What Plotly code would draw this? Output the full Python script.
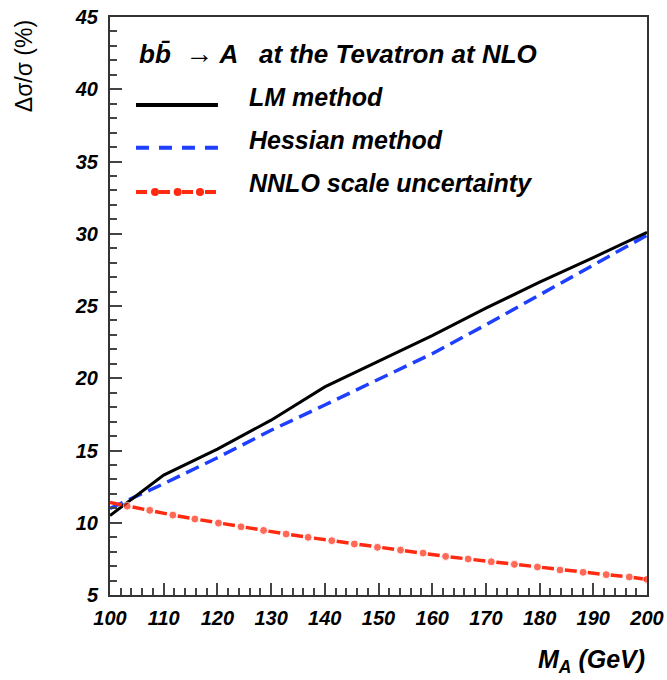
import plotly.graph_objects as go

# ---- data ----
lm_x = [100, 110, 120, 130, 140, 150, 160, 170, 180, 190, 200]
lm_y = [10.5, 13.3, 15.1, 17.1, 19.4, 21.15, 22.95, 24.85, 26.65, 28.35, 30.1]

hess_x = [100, 110, 120, 130, 140, 150, 160, 170, 180, 190, 200]
hess_y = [11.0, 12.7, 14.5, 16.4, 18.15, 19.9, 21.7, 23.7, 25.75, 27.8, 29.9]

nnlo_x = [100, 103.2, 107.4, 111.7, 115.8, 120.2, 124.4, 128.6, 132.8, 136.9, 141.3,
          145.5, 149.8, 154.1, 158.3, 162.5, 166.7, 171.0, 175.3, 179.6, 183.8,
          188.1, 192.4, 196.7, 200]
nnlo_y = [11.4, 11.15, 10.86, 10.53, 10.26, 9.98, 9.72, 9.47, 9.22, 8.99, 8.76,
          8.53, 8.30, 8.11, 7.90, 7.67, 7.49, 7.30, 7.12, 6.94, 6.73,
          6.57, 6.41, 6.25, 6.08]

x_ticks = [100, 110, 120, 130, 140, 150, 160, 170, 180, 190, 200]
y_ticks = [5, 10, 15, 20, 25, 30, 35, 40, 45]

title_text = ("bb\u0304  <span style='font-size:28px;font-weight:normal;font-style:normal'>\u2192</span>"
              " A   at the Tevatron at NLO")
legend_names = ["LM method", "Hessian method", "NNLO scale uncertainty"]

FONT = "Liberation Sans, Arial, sans-serif"
RED = "#ff2a10"
BLUE = "#1f3fff"

fig = go.Figure()
fig.add_trace(go.Scatter(x=hess_x, y=hess_y, mode="lines",
                         line=dict(color=BLUE, width=3.5, dash="14px,7px"),
                         showlegend=False))
fig.add_trace(go.Scatter(x=lm_x, y=lm_y, mode="lines",
                         line=dict(color="black", width=3),
                         showlegend=False))
msizes = [0] + [8] * (len(nnlo_x) - 1)
fig.add_trace(go.Scatter(x=nnlo_x, y=nnlo_y, mode="lines+markers",
                         line=dict(color=RED, width=3.5, dash="12px,11px"),
                         marker=dict(color=RED, size=msizes),
                         showlegend=False))

# ---- legend drawn as decorations (paper coords) ----
x0, x1 = 0.0484, 0.201
ys = [0.8478, 0.7739, 0.6972]
shapes = [
    dict(type="line", xref="paper", yref="paper", x0=x0, x1=x1, y0=ys[0], y1=ys[0],
         line=dict(color="black", width=4)),
    dict(type="line", xref="paper", yref="paper", x0=x0, x1=x1, y0=ys[1], y1=ys[1],
         line=dict(color=BLUE, width=4, dash="13px,10px")),
    dict(type="line", xref="paper", yref="paper", x0=x0, x1=x1, y0=ys[2], y1=ys[2],
         line=dict(color=RED, width=4, dash="11px,12px")),
]
for dx in [0.0838, 0.1260, 0.1676]:
    r = 0.0075
    shapes.append(dict(type="circle", xref="paper", yref="paper",
                       x0=dx - r, x1=dx + r, y0=ys[2] - r * 537 / 578, y1=ys[2] + r * 537 / 578,
                       fillcolor=RED, line=dict(color=RED, width=0)))

annots = [
    dict(text=title_text, x=0.0497, y=0.9377, xref="paper", yref="paper",
         xanchor="left", yanchor="middle", showarrow=False,
         font=dict(family=FONT, size=26, color="black", weight="bold", style="italic")),
]
for name, yy in zip(legend_names, [0.862, 0.787, 0.7128]):
    annots.append(dict(text=name, x=0.2546, y=yy, xref="paper", yref="paper",
                       xanchor="left", yanchor="middle", showarrow=False,
                       font=dict(family=FONT, size=25, color="black", weight="bold", style="italic")))
# y-axis title at top
annots.append(dict(text="\u0394\u03c3/\u03c3 (%)", x=-0.16, y=0.915, xref="paper", yref="paper",
                   xanchor="center", yanchor="middle", textangle=-90, showarrow=False,
                   font=dict(family=FONT, size=23, color="black")))
# x-axis title at right
annots.append(dict(text="M<sub>A</sub> (GeV)", x=1.0, y=-0.115, xref="paper", yref="paper",
                   xanchor="right", yanchor="middle", showarrow=False,
                   font=dict(family=FONT, size=25, color="black", weight="bold", style="italic")))

fig.update_layout(
    width=667, height=680,
    margin=dict(l=110, r=20, t=17, b=85, autoexpand=False),
    paper_bgcolor="white", plot_bgcolor="white",
    shapes=shapes, annotations=annots,
    showlegend=False,
)
tickfont = dict(family=FONT, size=20, color="black", weight="bold", style="italic")
fig.update_xaxes(range=[100, 200], tickvals=x_ticks, ticktext=[str(v) for v in x_ticks],
                 ticks="inside", ticklen=12, tickwidth=1.5, tickcolor="#444",
                 minor=dict(dtick=2, tick0=100, ticks="inside", ticklen=7, tickwidth=1.5, tickcolor="#444"),
                 showline=True, linecolor="#333", linewidth=2, mirror=True, automargin=False,
                 showgrid=False, zeroline=False, tickfont=tickfont, ticklabelstandoff=4)
fig.update_yaxes(range=[5, 45], tickvals=y_ticks, ticktext=[str(v) for v in y_ticks],
                 ticks="inside", ticklen=12, tickwidth=1.5, tickcolor="#444",
                 minor=dict(dtick=1, tick0=5, ticks="inside", ticklen=7, tickwidth=1.5, tickcolor="#444"),
                 showline=True, linecolor="#333", linewidth=2, mirror=True, automargin=False,
                 showgrid=False, zeroline=False, tickfont=tickfont, ticklabelstandoff=6)

fig.write_html("out.html")
